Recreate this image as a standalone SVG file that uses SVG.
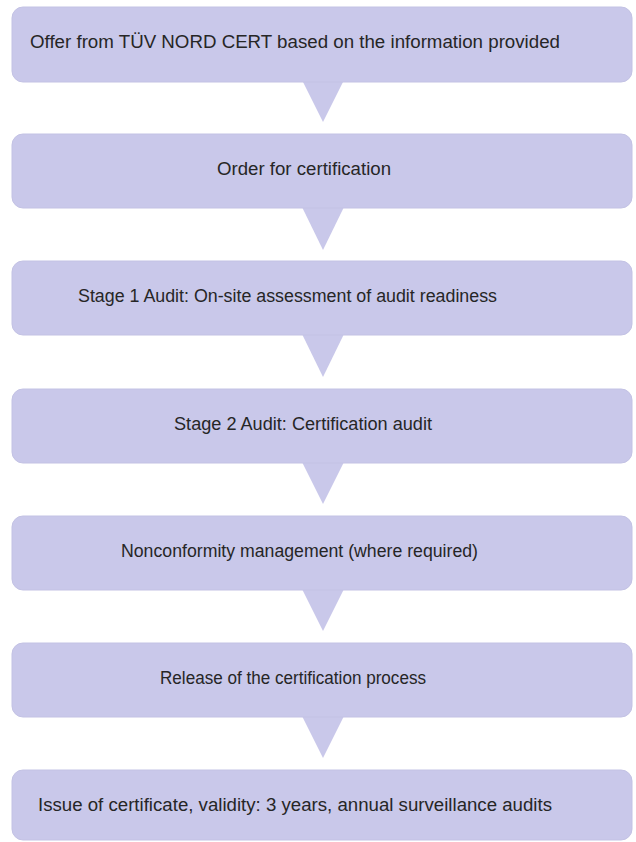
<svg xmlns="http://www.w3.org/2000/svg" width="636" height="842" viewBox="0 0 636 842">
<style>
.box{fill:#c9c8ea;stroke:#c3c2e4;stroke-width:1}
.tri{fill:#c9c8ea}
.t{font-family:"Liberation Sans",Arial,sans-serif;font-size:17.5px;fill:#262626}
</style>
<rect width="636" height="842" fill="#ffffff"/>
<g id="connectors">
<polygon class="tri" points="302,80 344,80 323,122"/>
<polygon class="tri" points="302,207 344,207 323,250"/>
<polygon class="tri" points="302,334 344,334 323,377"/>
<polygon class="tri" points="302,462 344,462 323,504"/>
<polygon class="tri" points="302,589 344,589 323,631"/>
<polygon class="tri" points="302,716 344,716 323,758"/>
</g>
<g id="n1"><rect class="box" x="12" y="7" width="620" height="75" rx="11"/><text class="t" x="30" y="48" textLength="530" lengthAdjust="spacingAndGlyphs">Offer from TÜV NORD CERT based on the information provided</text></g>
<g id="n2"><rect class="box" x="12" y="134" width="620" height="74" rx="11"/><text class="t" x="217" y="175" textLength="174" lengthAdjust="spacingAndGlyphs">Order for certification</text></g>
<g id="n3"><rect class="box" x="12" y="261" width="620" height="74" rx="11"/><text class="t" x="78" y="302" textLength="419" lengthAdjust="spacingAndGlyphs">Stage 1 Audit: On-site assessment of audit readiness</text></g>
<g id="n4"><rect class="box" x="12" y="389" width="620" height="74" rx="11"/><text class="t" x="174" y="430" textLength="258" lengthAdjust="spacingAndGlyphs">Stage 2 Audit: Certification audit</text></g>
<g id="n5"><rect class="box" x="12" y="516" width="620" height="74" rx="11"/><text class="t" x="121" y="557" textLength="357" lengthAdjust="spacingAndGlyphs">Nonconformity management (where required)</text></g>
<g id="n6"><rect class="box" x="12" y="643" width="620" height="74" rx="11"/><text class="t" x="160" y="684" textLength="266" lengthAdjust="spacingAndGlyphs">Release of the certification process</text></g>
<g id="n7"><rect class="box" x="12" y="770" width="620" height="70" rx="11"/><text class="t" x="38" y="811" textLength="514" lengthAdjust="spacingAndGlyphs">Issue of certificate, validity: 3 years, annual surveillance audits</text></g>
</svg>
